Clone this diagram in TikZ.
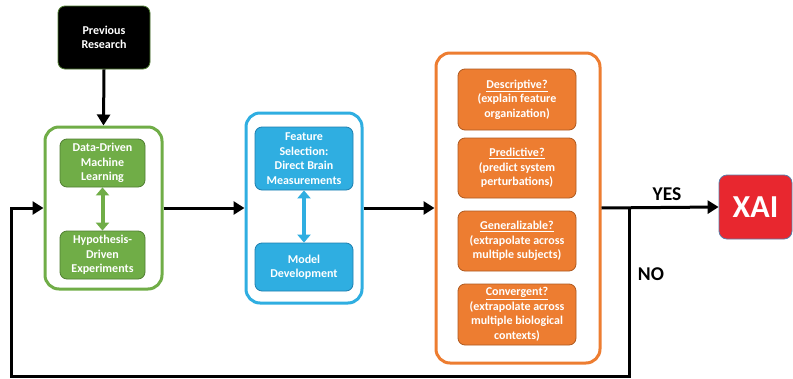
\documentclass[tikz,border=0pt]{standalone}
\usepackage{fontspec}
\setmainfont{Carlito}
\usetikzlibrary{arrows.meta}
\definecolor{grn}{HTML}{70AD47}
\definecolor{grndark}{HTML}{507E32}
\definecolor{blu}{HTML}{2FAEE1}
\definecolor{bludark}{HTML}{1F7FAF}
\definecolor{org}{HTML}{ED7D31}
\definecolor{orgdark}{HTML}{AE5A21}
\definecolor{xred}{HTML}{E8272F}
\definecolor{xedge}{HTML}{5A7DA8}
\tikzset{
  outerbox/.style={draw=#1, line width=3pt, rounded corners=14pt, fill=white, inner sep=0pt},
  innerbox/.style={draw=#1, line width=0.8pt, rounded corners=7pt, text=white, inner sep=0pt,
    align=center, font=\fontsize{12}{14.5}\selectfont\bfseries},
  flow/.style={line width=3pt, -{Triangle[length=11pt,width=13pt]}},
  twoway/.style={draw=#1, line width=4pt, {Triangle[length=8pt,width=13pt]}-{Triangle[length=8pt,width=13pt]}},
  lbl/.style={font=\fontsize{19.5}{22}\selectfont\bfseries}
}
\begin{document}
\begin{tikzpicture}[x=1pt,y=-1pt]
\useasboundingbox (0,0) rectangle (793,378);

% source box
\node[innerbox=grndark, fill=black, minimum width=92pt, minimum height=63pt] (prev) at (104,37.5) {Previous\\Research};

% green stage: data-driven and hypothesis-driven work
\node[outerbox=grn, minimum width=117pt, minimum height=162pt] (gout) at (103.5,208) {};
\node[innerbox=grndark, fill=grn, minimum width=85pt, minimum height=48pt] (g1) at (102.5,163) {Data-Driven\\Machine\\Learning};
\node[innerbox=grndark, fill=grn, minimum width=85pt, minimum height=48pt] (g2) at (102.5,255) {Hypothesis-\\Driven\\Experiments};
\draw[twoway=grn] (g1.south) -- (g2.north);

% blue stage: features and models
\node[outerbox=blu, minimum width=116pt, minimum height=190pt] (bout) at (304,208) {};
\node[innerbox=bludark, fill=blu, minimum width=98pt, minimum height=63pt] (b1) at (304,158.5) {Feature\\Selection:\\Direct Brain\\Measurements};
\node[innerbox=bludark, fill=blu, minimum width=98pt, minimum height=48pt] (b2) at (304,267) {Model\\Development};
\draw[twoway=blu] (b1.south) -- (b2.north);

% orange stage: evaluation criteria
\node[outerbox=org, minimum width=164pt, minimum height=310pt] (oout) at (518,208) {};
\node[innerbox=orgdark, fill=org, minimum width=118pt, minimum height=61pt] (o1) at (517,99.5) {\underline{Descriptive?}\\(explain feature\\organization)};
\node[innerbox=orgdark, fill=org, minimum width=118pt, minimum height=60pt] (o2) at (517,168) {\underline{Predictive?}\\(predict system\\perturbations)};
\node[innerbox=orgdark, fill=org, minimum width=118pt, minimum height=60pt] (o3) at (517,241) {\underline{Generalizable?}\\(extrapolate across\\multiple subjects)};
\node[innerbox=orgdark, fill=org, minimum width=118pt, minimum height=61pt] (o4) at (517,314.5) {\underline{Convergent?}\\(extrapolate across\\multiple biological\\contexts)};

% outcome
\node[draw=xedge, line width=0.8pt, fill=xred, rounded corners=8pt, minimum width=73pt, minimum height=64pt,
  text=white, font=\fontsize{32}{34}\selectfont\bfseries] (xai) at (755.5,207) {XAI};

% main flow
\draw[flow] (prev.south) -- (gout.north);
\draw[flow] (gout.east) -- (bout.west);
\draw[flow] (bout.east) -- (oout.west);
\draw[flow] (oout.east) -- (xai.west);

% feedback loop
\coordinate (split) at (629,208);
\coordinate (loopbottom) at (11,376);
\draw[flow] (split) |- (loopbottom) |- (gout.west);

\node[lbl] (yes) at (667,194) {YES};
\node[lbl] (no) at (651,274) {NO};
\end{tikzpicture}
\end{document}
